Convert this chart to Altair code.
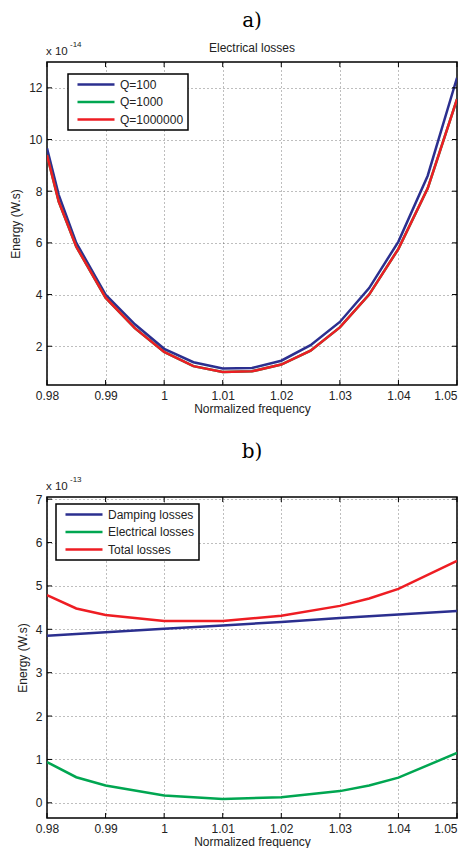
import altair as alt
import pandas as pd

# ---------------- data (panel a: Electrical losses, x 10^-14) ----------------
freq_a = [0.98, 0.982, 0.985, 0.99, 0.995, 1.0, 1.005, 1.01, 1.015, 1.02,
          1.025, 1.03, 1.035, 1.04, 1.045, 1.05]
q100 = [9.66, 7.86, 6.0, 4.0, 2.85, 1.9, 1.38, 1.14, 1.16, 1.44,
        2.04, 2.94, 4.25, 6.05, 8.6, 12.39]
q1000 = [9.4, 7.6, 5.85, 3.88, 2.7, 1.78, 1.23, 1.0, 1.03, 1.29,
         1.83, 2.73, 4.0, 5.77, 8.11, 11.56]
q1000000 = [9.4, 7.6, 5.85, 3.88, 2.7, 1.78, 1.23, 1.0, 1.03, 1.29,
            1.83, 2.73, 4.0, 5.77, 8.11, 11.56]
series_a = ["Q=100", "Q=1000", "Q=1000000"]

# ---------------- data (panel b: losses, x 10^-13) ----------------
freq_b = [0.98, 0.985, 0.99, 1.0, 1.01, 1.02, 1.03, 1.035, 1.04, 1.05]
damping = [3.85, 3.89, 3.93, 4.01, 4.09, 4.17, 4.26, 4.30, 4.34, 4.42]
electrical = [0.94, 0.59, 0.40, 0.17, 0.09, 0.13, 0.27, 0.40, 0.58, 1.15]
total = [4.79, 4.48, 4.33, 4.19, 4.19, 4.31, 4.54, 4.71, 4.93, 5.58]
series_b = ["Damping losses", "Electrical losses", "Total losses"]

x_ticks = [0.98, 0.99, 1.0, 1.01, 1.02, 1.03, 1.04, 1.05]
y_ticks_a = [2, 4, 6, 8, 10, 12]
y_ticks_b = [0, 1, 2, 3, 4, 5, 6, 7]

colors = ["#2b2f8f", "#00a651", "#ee1d23"]
FONT = "Liberation Sans"
W = 410


def long_df(freq, cols, names):
    rows = []
    for name, vals in zip(names, cols):
        for f, v in zip(freq, vals):
            rows.append({"freq": f, "energy": v, "series": name})
    return pd.DataFrame(rows)


def panel(df, names, ydom, yticks, h, letter, letter_y, subtitle, exponent, lx, ly):
    x_enc = alt.X(
        "freq:Q",
        scale=alt.Scale(domain=[0.98, 1.05], nice=False, zero=False),
        axis=alt.Axis(
            values=x_ticks,
            labelExpr="datum.value == 1 ? '1' : format(datum.value, '.2f')",
            labelFlush=False,
            labelAlign={"condition": {"test": "datum.value > 1.049", "value": "right"},
                        "value": "center"},
            title="Normalized frequency",
        ),
    )
    y_enc = alt.Y(
        "energy:Q",
        scale=alt.Scale(domain=ydom, nice=False, zero=False),
        axis=alt.Axis(values=yticks, format="d", title="Energy (W.s)"),
    )
    lines = (
        alt.Chart(df)
        .mark_line(strokeWidth=2.5, clip=True)
        .encode(
            x=x_enc,
            y=y_enc,
            color=alt.Color(
                "series:N",
                scale=alt.Scale(domain=names, range=colors),
                sort=names,
                legend=alt.Legend(
                    title=None,
                    orient="none",
                    legendX=lx,
                    legendY=ly,
                    symbolType="stroke",
                    symbolSize=1370,
                    symbolStrokeWidth=2.5,
                    symbolOffset=4,
                    clipHeight=13,
                    labelFontSize=12,
                    labelFont=FONT,
                    labelColor="#222",
                    labelOffset=4,
                    rowPadding=4.5,
                    padding=4,
                    strokeColor="black",
                    fillColor="white",
                ),
            ),
        )
    )
    xt = pd.DataFrame({"freq": x_ticks})
    yt = pd.DataFrame({"energy": yticks})
    tick_b = alt.Chart(xt).mark_rule(color="black", strokeWidth=1).encode(
        x=x_enc, y=alt.value(h), y2=alt.value(h - 5))
    tick_t = alt.Chart(xt).mark_rule(color="black", strokeWidth=1).encode(
        x=x_enc, y=alt.value(0), y2=alt.value(5))
    tick_l = alt.Chart(yt).mark_rule(color="black", strokeWidth=1).encode(
        y=y_enc, x=alt.value(0), x2=alt.value(5))
    tick_r = alt.Chart(yt).mark_rule(color="black", strokeWidth=1).encode(
        y=y_enc, x=alt.value(W), x2=alt.value(W - 5))

    one = pd.DataFrame({"a": [0]})
    t_letter = alt.Chart(one).mark_text(
        text=letter, font="DejaVu Serif", fontSize=20, color="black",
        baseline="top", align="center").encode(
        x=alt.value(W / 2), y=alt.value(letter_y))
    layers = [lines, tick_b, tick_t, tick_l, tick_r, t_letter]
    if subtitle:
        layers.append(alt.Chart(one).mark_text(
            text=subtitle, font=FONT, fontSize=12, color="#222",
            baseline="middle", align="center").encode(
            x=alt.value(W / 2), y=alt.value(-14)))
    layers.append(alt.Chart(one).mark_text(
        text="x 10", font=FONT, fontSize=11.5, color="#222",
        baseline="middle", align="left").encode(
        x=alt.value(-1), y=alt.value(-10)))
    layers.append(alt.Chart(one).mark_text(
        text=exponent, font=FONT, fontSize=8, color="#222",
        baseline="middle", align="left").encode(
        x=alt.value(23), y=alt.value(-17)))

    return alt.layer(*layers).properties(width=W, height=h)


df_a = long_df(freq_a, [q100, q1000, q1000000], series_a)
df_b = long_df(freq_b, [damping, electrical, total], series_b)

pa = panel(df_a, series_a, [0.5, 13], y_ticks_a, 323, "a)", -51,
           "Electrical losses", "-14", 21, 12)
pb = panel(df_b, series_b, [-0.35, 7.05], y_ticks_b, 321, "b)", -55,
           "", "-13", 9, 7)

chart = (
    alt.vconcat(pa, pb, spacing=26)
    .resolve_scale(color="independent", x="independent", y="independent")
    .resolve_legend(color="independent")
    .configure(padding={"top": 2, "left": 0, "right": 0, "bottom": 0})
    .configure_view(stroke="black", strokeWidth=1.5)
    .configure_axis(
        labelFont=FONT,
        labelFontSize=12,
        labelColor="#222",
        titleFont=FONT,
        titleFontSize=12,
        titleFontWeight="normal",
        titleColor="#222",
        domain=False,
        ticks=False,
        labelPadding=5,
        grid=True,
        gridColor="#333",
        gridDash=[1, 3],
        gridWidth=0.8,
        gridOpacity=0.8,
    )
    .configure_axisX(titlePadding=2)
    .configure_axisY(titlePadding=6)
    .configure_legend(strokeWidth=1.5)
)

chart.save("out.html", embed_options={"renderer": "svg", "actions": False})
